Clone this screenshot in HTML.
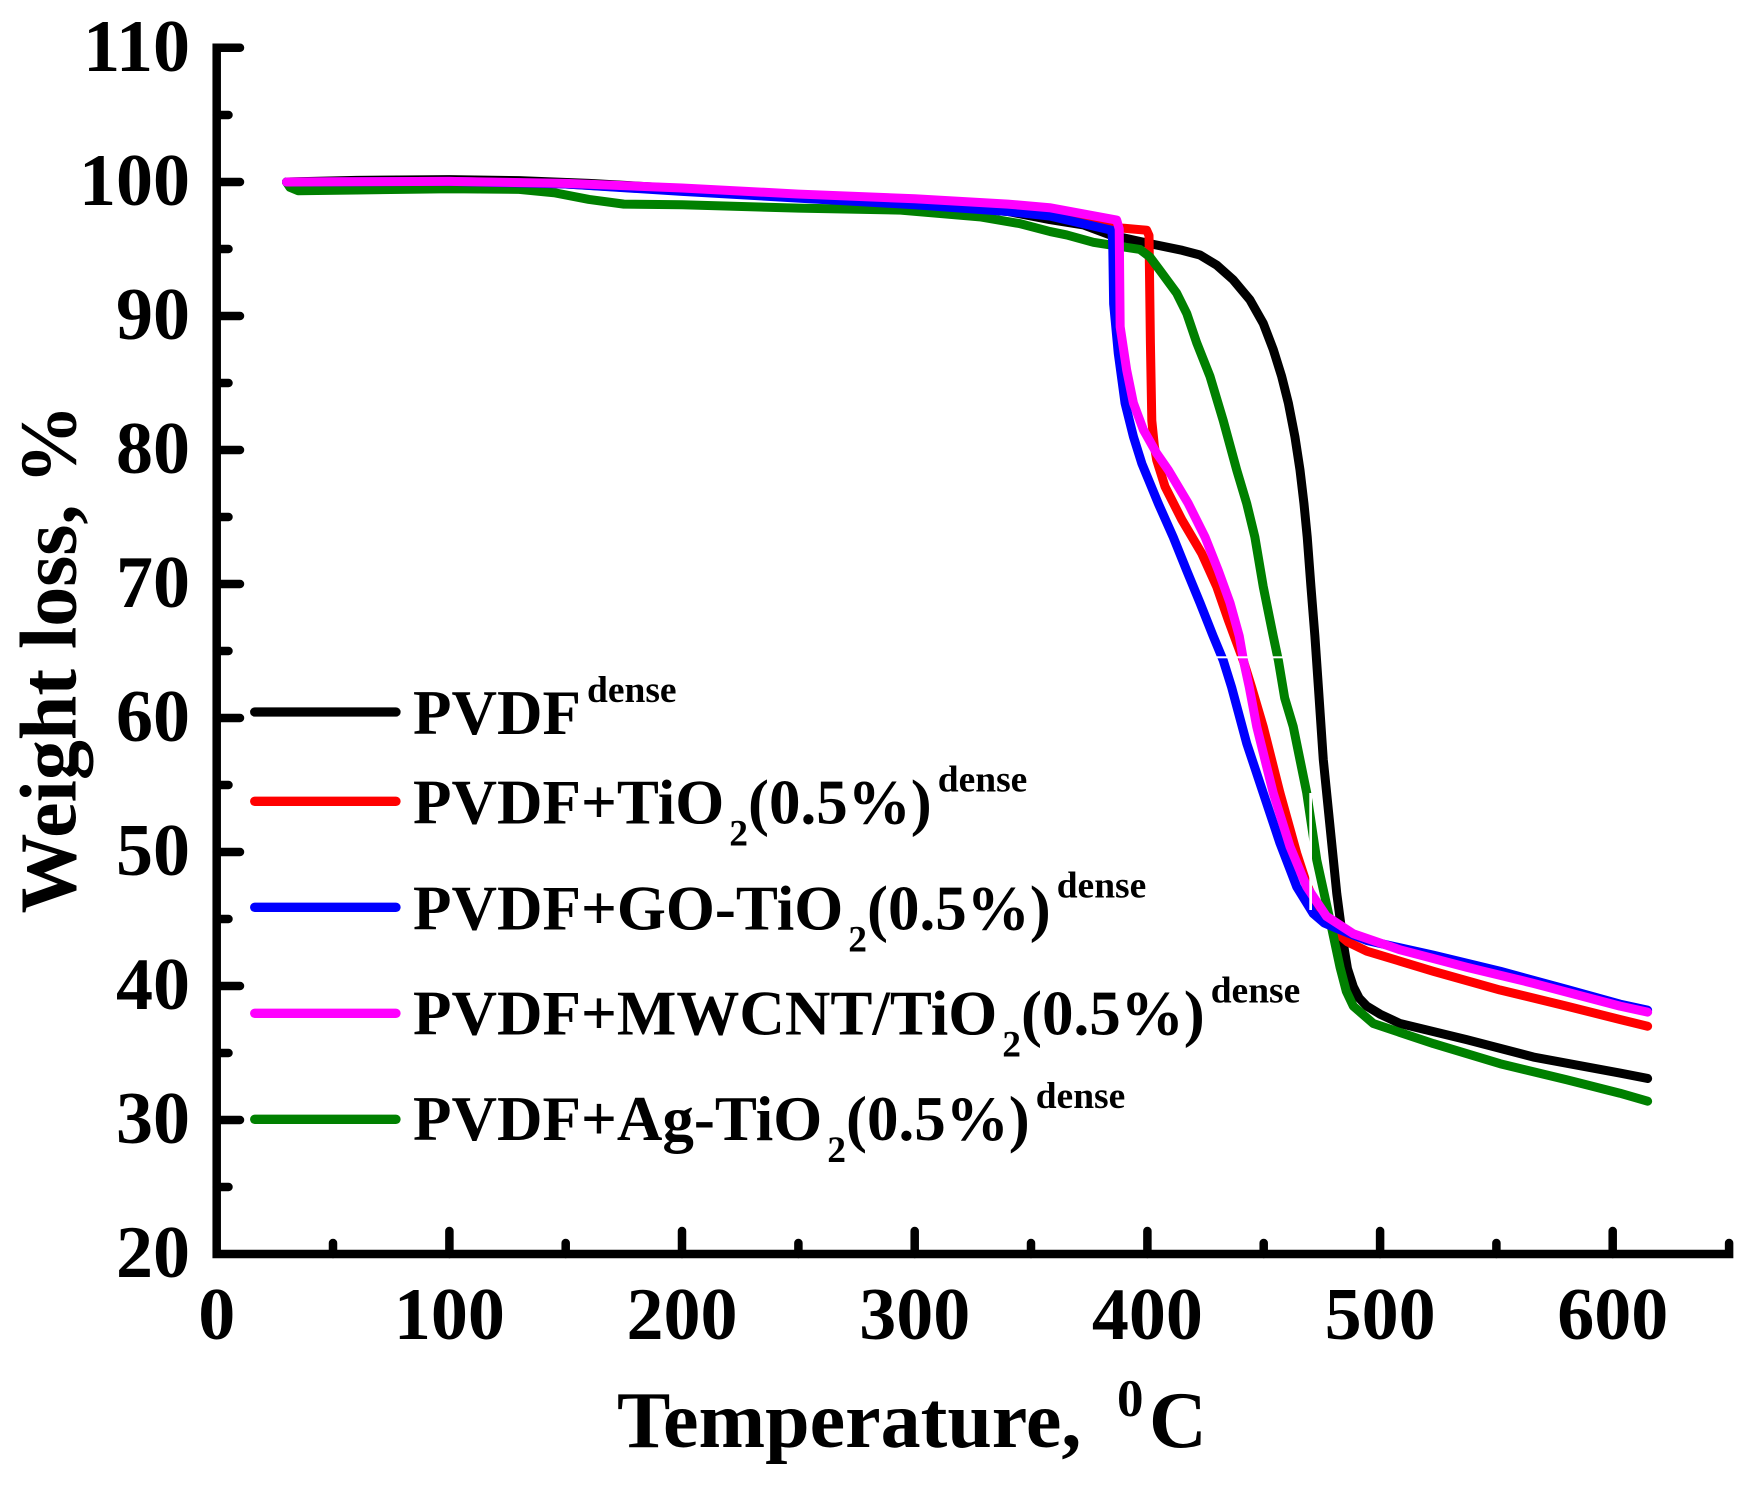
<!DOCTYPE html>
<html>
<head>
<meta charset="utf-8">
<style>
  html, body { margin: 0; padding: 0; background: #ffffff; }
  svg { display: block; }
  text { font-family: "Liberation Serif", "Times New Roman", serif; font-weight: bold; fill: #000; }
</style>
</head>
<body>
<svg width="1764" height="1485" viewBox="0 0 1764 1485" xmlns="http://www.w3.org/2000/svg">
  <rect x="0" y="0" width="1764" height="1485" fill="#ffffff"/>

  <!-- Curves (data coords: t in °C, w in %) -->
  <g transform="translate(216.7,1522) scale(2.3267,-13.4)" fill="none" stroke-width="9" stroke-linecap="round" stroke-linejoin="round">
    <path vector-effect="non-scaling-stroke" stroke="#000000" d="M30,100 L60,100.12 L100,100.18 L130,100.1 L160,99.9 L200,99.5 L250,99.0 L300,98.4 L340,97.8 L358,97.2 L372.5,96.8 L384,96.05 L401,95.4 L415,94.9 L422.6,94.55 L429.8,93.8 L436.9,92.7 L444.1,91.2 L449.8,89.45 L454.1,87.5 L457.7,85.5 L460.6,83.5 L463.4,81 L465.6,78.5 L467.3,76 L468.7,73.5 L470.3,69.8 L472,66.1 L473.5,62.3 L475.6,56.9 L478.5,51.9 L481.4,46.9 L484.2,43.2 L486,41.3 L488.5,39.95 L491,39.1 L494.3,38.5 L500,37.9 L508.6,37.2 L537.2,36 L565.9,34.7 L603.1,33.5 L615,33.1"/>
    <path vector-effect="non-scaling-stroke" stroke="#ff0000" d="M30,100 L100,100.05 L150,99.85 L200,99.35 L250,98.85 L300,98.35 L340,97.85 L358,97.5 L385,96.6 L390,96.55 L399.7,96.4 L400.7,96 L401.3,88 L401.9,82.2 L403,80.3 L404,79.25 L407.6,77.26 L414.8,74.8 L423.3,72.3 L429.8,69.8 L434.8,67.3 L441.2,64.3 L444.8,62.3 L449.8,59.35 L457,54.4 L464.2,49.9 L468.5,47.6 L472.8,45.9 L479.9,44.2 L486,43.3 L494.3,42.6 L522.9,41.1 L551.6,39.7 L580.2,38.5 L603.1,37.5 L615,37"/>
    <path vector-effect="non-scaling-stroke" stroke="#008000" d="M30,100 L31.5,99.6 L35,99.35 L60,99.4 L100,99.5 L130,99.45 L145,99.2 L160,98.7 L175,98.35 L200,98.3 L250,98.05 L294,97.9 L328,97.4 L345,96.9 L358.2,96.3 L365.3,96.05 L376.8,95.5 L384,95.3 L396.8,94.97 L401.1,94.4 L405.4,93.4 L412.6,91.7 L416.9,90.2 L421.2,88 L426.9,85.5 L432.6,82.2 L438.4,78.5 L442.7,76 L446.2,73.5 L449.8,69.8 L454.1,66.1 L456.3,64.3 L459,61.5 L462.7,59.35 L468.5,54.4 L472.8,49.4 L478.5,44.9 L482.8,41.4 L485.5,39.6 L488.5,38.5 L497.1,37.2 L522.9,35.7 L551.6,34.2 L580.2,33 L603.1,32 L615,31.4"/>
    <path vector-effect="non-scaling-stroke" stroke="#0000ff" d="M30,100 L100,100.05 L150,99.85 L200,99.3 L250,98.8 L300,98.3 L340,97.8 L358,97.46 L384.7,96.4 L385.1,95.5 L385.5,90.9 L387.5,87.2 L390.4,83.5 L394,81 L397.6,79 L404.7,76 L411.1,73.5 L416.9,71 L422.6,68.6 L428.3,66.1 L432.6,64.3 L436.2,62.3 L442.7,58.1 L449.8,54.4 L457,50.65 L464.2,47.4 L471.3,45.4 L476,44.7 L482.8,44.2 L494.3,43.4 L522.9,42.3 L551.6,41.1 L580.2,39.75 L603.1,38.65 L615,38.2"/>
    <path vector-effect="non-scaling-stroke" stroke="#ff00ff" d="M30,100 L100,100.05 L150,99.9 L200,99.55 L250,99.1 L300,98.75 L340,98.35 L358,98.08 L386.8,97.16 L387.9,96.5 L388.3,89.2 L391.1,85.97 L394,83.5 L398.3,81.5 L404,79.75 L409,78.5 L417.6,76 L424.8,73.5 L430.5,71 L435.5,68.6 L439.5,66.1 L441.3,64.3 L443.8,62.3 L447,59.35 L454.1,54.4 L461.3,50.4 L468.5,47.4 L477,45.2 L488.5,43.9 L508.6,42.7 L537.2,41.4 L565.9,40.2 L603.1,38.5 L615,38.05"/>
  </g>

  <!-- small white artifacts present in the original -->
  <rect x="1215" y="656.3" width="69" height="2" fill="#ffffff"/>
  <rect x="1309.3" y="793" width="2.7" height="117" fill="#ffffff"/>

  <!-- Axes -->
  <g stroke="#000" stroke-width="8.5" fill="none">
    <path d="M240,47.7 L216.7,47.7 L216.7,1254 L1729.1,1254 L1729.1,1243" stroke-linejoin="miter" stroke-linecap="round"/>
  </g>
  <g stroke="#000" stroke-width="8.5" stroke-linecap="round">
    <!-- Y major ticks -->
    <line x1="216.7" y1="1120" x2="240" y2="1120"/>
    <line x1="216.7" y1="986" x2="240" y2="986"/>
    <line x1="216.7" y1="852" x2="240" y2="852"/>
    <line x1="216.7" y1="718" x2="240" y2="718"/>
    <line x1="216.7" y1="584" x2="240" y2="584"/>
    <line x1="216.7" y1="450" x2="240" y2="450"/>
    <line x1="216.7" y1="316" x2="240" y2="316"/>
    <line x1="216.7" y1="182" x2="240" y2="182"/>
    <!-- Y minor ticks -->
    <line x1="216.7" y1="1187" x2="228.5" y2="1187"/>
    <line x1="216.7" y1="1053" x2="228.5" y2="1053"/>
    <line x1="216.7" y1="919" x2="228.5" y2="919"/>
    <line x1="216.7" y1="785" x2="228.5" y2="785"/>
    <line x1="216.7" y1="651" x2="228.5" y2="651"/>
    <line x1="216.7" y1="517" x2="228.5" y2="517"/>
    <line x1="216.7" y1="383" x2="228.5" y2="383"/>
    <line x1="216.7" y1="249" x2="228.5" y2="249"/>
    <line x1="216.7" y1="115" x2="228.5" y2="115"/>
    <!-- X major ticks -->
    <line x1="449.4" y1="1254" x2="449.4" y2="1231"/>
    <line x1="682.0" y1="1254" x2="682.0" y2="1231"/>
    <line x1="914.7" y1="1254" x2="914.7" y2="1231"/>
    <line x1="1147.4" y1="1254" x2="1147.4" y2="1231"/>
    <line x1="1380.1" y1="1254" x2="1380.1" y2="1231"/>
    <line x1="1612.7" y1="1254" x2="1612.7" y2="1231"/>
    <!-- X minor ticks -->
    <line x1="333.0" y1="1254" x2="333.0" y2="1243"/>
    <line x1="565.7" y1="1254" x2="565.7" y2="1243"/>
    <line x1="798.4" y1="1254" x2="798.4" y2="1243"/>
    <line x1="1031.0" y1="1254" x2="1031.0" y2="1243"/>
    <line x1="1263.7" y1="1254" x2="1263.7" y2="1243"/>
    <line x1="1496.4" y1="1254" x2="1496.4" y2="1243"/>
  </g>

  <!-- Y tick labels -->
  <g font-size="74" text-anchor="end">
    <text x="190" y="71">110</text>
    <text x="190" y="205">100</text>
    <text x="190" y="339">90</text>
    <text x="190" y="473">80</text>
    <text x="190" y="607">70</text>
    <text x="190" y="741">60</text>
    <text x="190" y="875">50</text>
    <text x="190" y="1009">40</text>
    <text x="190" y="1143">30</text>
    <text x="190" y="1277">20</text>
  </g>

  <!-- X tick labels -->
  <g font-size="74" text-anchor="middle">
    <text x="216.7" y="1339">0</text>
    <text x="449.4" y="1339">100</text>
    <text x="682.0" y="1339">200</text>
    <text x="914.7" y="1339">300</text>
    <text x="1147.4" y="1339">400</text>
    <text x="1380.1" y="1339">500</text>
    <text x="1612.7" y="1339">600</text>
  </g>

  <!-- Axis titles -->
  <text x="617" y="1447" font-size="80">Temperature,</text>
  <text x="1117" y="1416" font-size="53">0</text>
  <text x="1149" y="1447" font-size="80">C</text>

  <text transform="translate(75.5,659) rotate(-90)" font-size="80" text-anchor="middle">Weight loss, %</text>

  <!-- Legend -->
  <g stroke-width="9.3" stroke-linecap="round">
    <line x1="254.7" y1="712" x2="396" y2="712" stroke="#000000"/>
    <line x1="254.7" y1="801.3" x2="396" y2="801.3" stroke="#ff0000"/>
    <line x1="254.7" y1="907.3" x2="396" y2="907.3" stroke="#0000ff"/>
    <line x1="254.7" y1="1013.3" x2="396" y2="1013.3" stroke="#ff00ff"/>
    <line x1="254.7" y1="1119.3" x2="396" y2="1119.3" stroke="#008000"/>
  </g>
  <g font-size="63">
    <text x="413" y="734">PVDF<tspan dx="6" dy="-32" font-size="37.5">dense</tspan></text>
    <text x="413" y="823.3">PVDF+TiO<tspan dx="5" dy="22" font-size="37.5">2</tspan><tspan dy="-22">(0.5%)</tspan><tspan dx="6" dy="-32" font-size="37.5">dense</tspan></text>
    <text x="413" y="929.3">PVDF+GO-TiO<tspan dx="5" dy="22" font-size="37.5">2</tspan><tspan dy="-22">(0.5%)</tspan><tspan dx="6" dy="-32" font-size="37.5">dense</tspan></text>
    <text x="413" y="1034.3">PVDF+MWCNT/TiO<tspan dx="5" dy="22" font-size="37.5">2</tspan><tspan dy="-22">(0.5%)</tspan><tspan dx="6" dy="-32" font-size="37.5">dense</tspan></text>
    <text x="413" y="1140">PVDF+Ag-TiO<tspan dx="5" dy="22" font-size="37.5">2</tspan><tspan dy="-22">(0.5%)</tspan><tspan dx="6" dy="-32" font-size="37.5">dense</tspan></text>
  </g>
</svg>
</body>
</html>
